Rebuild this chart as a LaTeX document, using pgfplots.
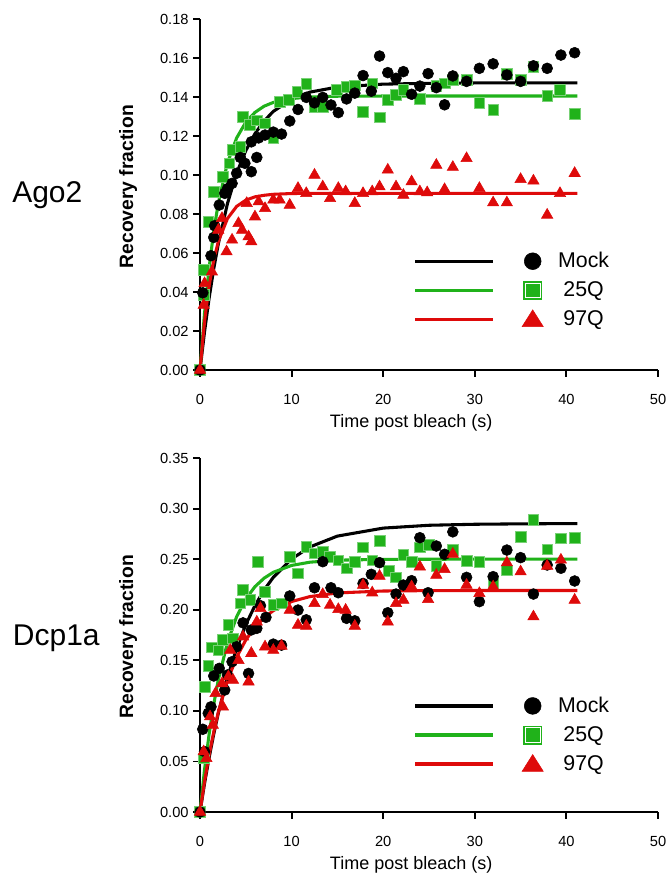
\documentclass[border=0pt]{standalone}
\usepackage{fontspec}
\setmainfont{Liberation Sans}
\usepackage{pgfplots}
\pgfplotsset{compat=1.18}
\definecolor{mygreen}{RGB}{32,178,26}
\definecolor{myred}{RGB}{222,10,10}
\pgfplotsset{
 frapstyle/.style={
  scale only axis, width=343.5pt,
  axis lines=left, axis line style={line width=1.6pt,-},
  xmin=0, xmax=50, xtick={0,10,20,30,40,50},
  tick align=outside, major tick length=5pt,
  every tick/.style={line width=1.4pt,black},
  tick label style={font=\fontsize{11}{13}\selectfont},
  xticklabel style={yshift=-10pt},
  /pgf/number format/assume math mode=true,
  clip=false,
  xlabel={Time post bleach (s)},
  xlabel style={font=\fontsize{13.5}{16}\selectfont, at={(axis description cs:0.461,0)}, anchor=center, yshift=-39.5pt},
  ylabel={Recovery fraction},
  ylabel style={font=\bfseries\fontsize{14.5}{17}\selectfont, anchor=center},
  yticklabel style={/pgf/number format/.cd, fixed, fixed zerofill, precision=2},
  legend style={draw=none, fill=none, inner sep=0pt, row sep=5.75pt,
    font=\fontsize{16}{19}\selectfont, nodes={inner sep=0pt},
    /tikz/every odd column/.append style={column sep=11pt}},
  legend cell align=center,
  fitline/.style={line width=2.3pt, no markers, forget plot},
  mockpts/.style={only marks, forget plot, mark=*, mark size=4.1pt, mark options={fill=black, draw=black}},
  gpts/.style={only marks, forget plot, mark=square*, mark size=4.0pt, mark options={fill=mygreen, draw=mygreen!60!white, line width=0.4pt}},
  rpts/.style={only marks, forget plot, mark=triangle*, mark size=4.9pt, mark options={fill=myred, draw=myred}},
 },
 legmock/.style={legend image code/.code={
   \path[draw=none,fill=none] (0pt,-8pt) rectangle (96pt,8pt);
   \draw[black,line width=2.5pt] (0pt,0pt) -- (58pt,0pt);
   \fill[black] (88pt,0pt) circle (6.3pt);}},
 leggreen/.style={legend image code/.code={
   \path[draw=none,fill=none] (0pt,-8pt) rectangle (96pt,8pt);
   \draw[mygreen,line width=2.5pt] (0pt,0pt) -- (58pt,0pt);
   \fill[mygreen] (81.25pt,-6.75pt) rectangle (94.75pt,6.75pt);
   \draw[white,line width=0.5pt] (82.6pt,-5.4pt) rectangle (93.4pt,5.4pt);}},
 legred/.style={legend image code/.code={
   \path[draw=none,fill=none] (0pt,-8pt) rectangle (96pt,8pt);
   \draw[myred,line width=2.5pt] (0pt,0pt) -- (58pt,0pt);
   \fill[myred] (80.1pt,-5.5pt) -- (95.9pt,-5.5pt) -- (88pt,7pt) -- cycle;}},
}
\begin{document}
\begin{tikzpicture}
\useasboundingbox (0,0) rectangle (501pt,-654.75pt);
\node[anchor=base west, inner sep=0pt, font=\fontsize{22.5}{27}\selectfont] at (9pt,-152.25pt) {Ago2};
\node[anchor=base west, inner sep=0pt, font=\fontsize{22.5}{27}\selectfont] at (9.5pt,-483.75pt) {Dcp1a};
% ---------------- Ago2 ----------------
\begin{axis}[frapstyle, at={(150pt,-277.5pt)}, anchor=south west, height=263.25pt,
  ymin=0, ymax=0.18, ytick={0,0.02,0.04,0.06,0.08,0.10,0.12,0.14,0.16,0.18},
  ylabel style={at={(axis description cs:-0.157,0.522)}},
  legend style={at={(axis cs:23.3,0.0614)}, anchor=north west}]
\addlegendimage{legmock}
\addlegendimage{leggreen}
\addlegendimage{legred}
\addplot[fitline, black] coordinates {(0,0) (0.5,0.0198) (1,0.0370) (1.5,0.0519) (2,0.0647) (3,0.0854) (4,0.1010) (5,0.1125) (6,0.1212) (7,0.1277) (8,0.1326) (10,0.1389) (12,0.1425) (15,0.1451) (20,0.1466) (25,0.1470) (30,0.1472) (35,0.1472) (41.2,0.1472)};
\addplot[fitline, mygreen] coordinates {(0,0) (0.5,0.0294) (1,0.0527) (1.5,0.0711) (2,0.0856) (3,0.1062) (4,0.1190) (5,0.1271) (6,0.1321) (7,0.1353) (8,0.1372) (10,0.1392) (12,0.1400) (15,0.1404) (20,0.1405) (30,0.1405) (41.2,0.1405)};
\addplot[fitline, myred] coordinates {(0,0) (0.5,0.0251) (1,0.0433) (1.5,0.0564) (2,0.0659) (3,0.0777) (4,0.0839) (5,0.0871) (6,0.0888) (7,0.0896) (8,0.0901) (10,0.0905) (12,0.0906) (20,0.0906) (30,0.0906) (41.2,0.0906)};
\addplot[gpts] coordinates {(0,0) (0.4,0.0385) (0.4,0.0513) (0.9,0.076) (1.5,0.0914) (2.5,0.099) (3.2,0.106) (3.6,0.1128) (4.4,0.1145) (4.7,0.130) (5.4,0.1256) (6.2,0.128) (7.1,0.1265) (8.0,0.1188) (8.7,0.1376) (9.7,0.1385) (10.6,0.1427) (11.6,0.1467) (12.5,0.135) (13.4,0.135) (14.9,0.1436) (16.0,0.1453) (16.9,0.146) (17.8,0.1325) (18.8,0.147) (19.6,0.1296) (20.5,0.1385) (21.4,0.141) (22.2,0.1436) (24.0,0.139) (25.8,0.1456) (26.7,0.147) (27.6,0.1487) (29.1,0.1487) (30.5,0.137) (32.0,0.1333) (33.5,0.152) (35.0,0.1487) (36.4,0.1555) (37.9,0.1405) (39.3,0.1436) (40.9,0.1313)};
\addplot[mockpts] coordinates {(0,0) (0.3,0.0396) (1.2,0.0586) (1.5,0.068) (1.6,0.074) (2.1,0.0846) (2.7,0.0906) (3.0,0.093) (3.5,0.0957) (4.0,0.1009) (4.4,0.109) (4.9,0.106) (5.6,0.1017) (6.2,0.109) (5.6,0.117) (6.4,0.119) (7.1,0.1205) (8.0,0.122) (8.9,0.121) (9.8,0.1277) (10.7,0.1336) (11.6,0.1398) (12.5,0.137) (13.4,0.1398) (14.3,0.1359) (15.1,0.132) (16.0,0.139) (16.9,0.142) (17.8,0.151) (18.7,0.143) (19.6,0.161) (20.5,0.1525) (21.4,0.1496) (22.2,0.153) (23.1,0.1414) (24.0,0.1456) (24.9,0.152) (25.8,0.1448) (26.7,0.136) (27.6,0.1508) (29.1,0.148) (30.5,0.1547) (32.0,0.157) (33.5,0.1513) (35.0,0.148) (36.4,0.156) (37.9,0.1547) (39.4,0.1615) (40.9,0.1627)};
\addplot[rpts] coordinates {(0,0) (0.4,0.0333) (0.5,0.0444) (1.3,0.0504) (2.0,0.0718) (2.4,0.0778) (2.9,0.0607) (3.5,0.0667) (4.2,0.0752) (4.6,0.0718) (5.3,0.0684) (5.6,0.0658) (5.1,0.0855) (6.0,0.0786) (6.4,0.0863) (7.1,0.0829) (8.0,0.0872) (8.7,0.0872) (9.8,0.0846) (10.7,0.0932) (11.6,0.0906) (12.5,0.100) (13.4,0.094) (14.2,0.088) (15.1,0.0932) (15.9,0.0915) (16.9,0.0855) (17.8,0.0906) (18.8,0.0915) (19.6,0.094) (20.5,0.1026) (21.4,0.094) (22.2,0.0897) (23.1,0.0966) (24.0,0.0915) (24.8,0.091) (25.8,0.1051) (26.7,0.0926) (27.6,0.104) (29.1,0.1085) (30.5,0.0932) (32.0,0.0858) (33.5,0.0858) (35.0,0.0978) (36.4,0.097) (37.9,0.0795) (39.3,0.0906) (40.9,0.1009)};
\legend{Mock, 25Q, 97Q}
\end{axis}
% ---------------- Dcp1a ----------------
\begin{axis}[frapstyle, at={(150pt,-609pt)}, anchor=south west, height=265.5pt,
  ymin=0, ymax=0.35, ytick={0,0.05,0.10,0.15,0.20,0.25,0.30,0.35},
  ylabel style={at={(axis description cs:-0.157,0.495)}},
  legend style={at={(axis cs:23.3,0.1157)}, anchor=north west}]
\addlegendimage{legmock}
\addlegendimage{leggreen}
\addlegendimage{legred}
\addplot[fitline, black] coordinates {(0,0) (0.5,0.0285) (1,0.0539) (1.5,0.0770) (2,0.0977) (3,0.1331) (4,0.1619) (5,0.1853) (6,0.2041) (7,0.2195) (8,0.2320) (10,0.2502) (12,0.2621) (15,0.2728) (20,0.2807) (25,0.2835) (30,0.2845) (35,0.2849) (41.2,0.2852)};
\addplot[fitline, mygreen] coordinates {(0,0) (0.5,0.0423) (1,0.0773) (1.5,0.1065) (2,0.1308) (3,0.1676) (4,0.1931) (5,0.2107) (6,0.2228) (7,0.2312) (8,0.2370) (10,0.2438) (12,0.2470) (15,0.2490) (20,0.2498) (30,0.2500) (41.2,0.2500)};
\addplot[fitline, myred] coordinates {(0,0) (0.5,0.0305) (1,0.0568) (1.5,0.0792) (2,0.0988) (3,0.1299) (4,0.1531) (5,0.1701) (6,0.1828) (7,0.1922) (8,0.1991) (10,0.2081) (12,0.2130) (15,0.2166) (20,0.2185) (25,0.2189) (30,0.2190) (41.2,0.2190)};
\addplot[gpts] coordinates {(0,0) (0.4,0.053) (0.5,0.1239) (0.9,0.1444) (1.3,0.1628) (2.0,0.16) (2.5,0.170) (3.1,0.185) (3.6,0.1717) (4.4,0.2063) (4.7,0.2195) (5.5,0.2096) (6.3,0.2475) (7.1,0.2178) (8.0,0.2047) (8.9,0.2063) (9.8,0.2524) (10.7,0.236) (11.6,0.2623) (12.5,0.2558) (13.4,0.2574) (14.2,0.2524) (15.1,0.249) (16.0,0.241) (16.9,0.2475) (17.8,0.2617) (18.8,0.249) (19.6,0.2683) (20.6,0.2386) (21.4,0.232) (22.2,0.2541) (23.1,0.2475) (24.0,0.2617) (25.0,0.264) (25.8,0.2432) (27.6,0.259) (29.1,0.2485) (30.5,0.2475) (32.0,0.2254) (33.5,0.239) (35.0,0.272) (36.4,0.2887) (37.9,0.2597) (39.4,0.2706) (40.9,0.2712)};
\addplot[mockpts] coordinates {(0,0) (0.3,0.0818) (0.5,0.0597) (0.9,0.0976) (1.2,0.104) (1.5,0.1345) (2.1,0.142) (2.7,0.1206) (3.0,0.1355) (3.5,0.1486) (4.0,0.1634) (4.7,0.187) (5.3,0.137) (5.6,0.18) (6.2,0.1816) (6.6,0.204) (7.2,0.1925) (8.0,0.166) (8.9,0.165) (9.8,0.2136) (10.7,0.1997) (11.6,0.19) (12.5,0.2217) (13.4,0.2475) (14.3,0.2217) (15.1,0.2168) (16.0,0.1915) (16.9,0.189) (17.8,0.226) (18.7,0.235) (19.6,0.2465) (20.5,0.197) (21.4,0.2155) (22.2,0.2244) (23.1,0.2287) (24.0,0.2712) (24.9,0.2168) (25.8,0.263) (26.7,0.2548) (27.6,0.277) (29.1,0.232) (30.5,0.208) (32.0,0.2327) (33.5,0.259) (35.0,0.2515) (36.4,0.2155) (37.9,0.2442) (39.4,0.241) (40.9,0.2284)};
\addplot[rpts] coordinates {(0,0) (0.4,0.0597) (0.7,0.053) (1.1,0.0943) (1.4,0.086) (1.7,0.1174) (2.4,0.127) (2.5,0.104) (3.1,0.1338) (3.3,0.160) (3.6,0.1305) (4.2,0.150) (4.7,0.1733) (5.3,0.1288) (5.6,0.157) (6.2,0.188) (6.6,0.2014) (7.1,0.1634) (8.0,0.160) (8.9,0.1641) (9.8,0.1997) (10.7,0.1849) (11.6,0.1839) (12.5,0.2063) (13.4,0.2152) (14.2,0.2047) (15.1,0.2004) (15.9,0.1997) (16.9,0.1839) (17.8,0.2244) (18.8,0.2168) (19.6,0.2333) (20.5,0.188) (21.4,0.2063) (22.2,0.2096) (23.1,0.2228) (24.0,0.2425) (24.9,0.2103) (25.8,0.2343) (26.7,0.240) (27.6,0.2551) (29.1,0.2244) (30.5,0.2162) (32.0,0.2228) (33.5,0.2465) (35.0,0.2376) (36.4,0.1931) (37.9,0.2432) (39.4,0.2492) (40.9,0.2096)};
\legend{Mock, 25Q, 97Q}
\end{axis}
\end{tikzpicture}
\end{document}
